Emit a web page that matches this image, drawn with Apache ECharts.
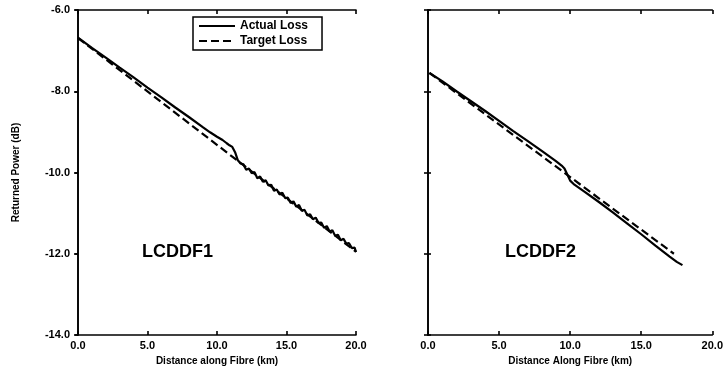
<!DOCTYPE html>
<html>
<head>
<meta charset="utf-8">
<script src="https://cdn.jsdelivr.net/npm/echarts@6/dist/echarts.min.js"></script>
<style>
  html, body { margin: 0; padding: 0; background: #fff; }
  #chart { width: 726px; height: 376px; }
</style>
</head>
<body>
<div id="chart"></div>
<script>
// LCDDF1 – measured trace (km, dB)
const actual1 = [
  [0, -6.68], [1, -6.93], [2, -7.17], [3, -7.42], [4, -7.66], [5, -7.91],
  [6, -8.15], [7, -8.40], [8, -8.64], [9, -8.89], [9.5, -9.01], [10, -9.12],
  [10.4, -9.20], [10.7, -9.28], [10.9, -9.33], [11.1, -9.37], [11.3, -9.50],
  [11.5, -9.70], [11.7, -9.78], [11.9, -9.80], [12.1, -9.93], [12.3, -9.90],
  [12.5, -10.02], [12.7, -9.99], [12.9, -10.14], [13.1, -10.10], [13.3, -10.23],
  [13.5, -10.19], [13.7, -10.32], [13.9, -10.30], [14.1, -10.45], [14.3, -10.42],
  [14.5, -10.54], [14.7, -10.50], [14.9, -10.63], [15.1, -10.62], [15.3, -10.75],
  [15.5, -10.71], [15.7, -10.84], [15.9, -10.80], [16.1, -10.94], [16.3, -10.92],
  [16.5, -11.06], [16.7, -11.03], [16.9, -11.15], [17.1, -11.11], [17.3, -11.24],
  [17.5, -11.23], [17.7, -11.36], [17.9, -11.32], [18.1, -11.45], [18.3, -11.42],
  [18.5, -11.56], [18.7, -11.53], [18.9, -11.67], [19.1, -11.63], [19.3, -11.75],
  [19.5, -11.74], [19.7, -11.86], [19.9, -11.85], [20.0, -11.96]
];
const target1 = [[0, -6.69], [20, -11.95]];

// LCDDF2
const actual2 = [
  [0.1, -7.55], [1, -7.75], [2, -8.0], [3, -8.24], [4, -8.48], [5, -8.73],
  [6, -8.98], [7, -9.22], [8, -9.47], [9, -9.72], [9.4, -9.83], [9.6, -9.9],
  [9.8, -10.05], [10.0, -10.2], [10.3, -10.3], [11, -10.47], [12, -10.72],
  [13, -10.98], [14, -11.25], [15, -11.52], [16, -11.8], [17, -12.07],
  [17.5, -12.2], [17.9, -12.28]
];
const target2 = [[0.1, -7.55], [17.3, -12.0]];

const FONT = "'Liberation Sans', Arial, sans-serif";
const lineStyleAxis = { color: '#000', width: 1.6 };

function xAxisPair(gridIndex, name) {
  return [
    {
      gridIndex, type: 'value', min: 0, max: 20, interval: 5,
      position: 'bottom',
      name, nameLocation: 'middle', nameGap: 20,
      nameTextStyle: { fontFamily: FONT, fontWeight: 'bold', fontSize: 10, color: '#000' },
      axisLine: { lineStyle: lineStyleAxis },
      axisTick: { inside: true, length: 4, lineStyle: lineStyleAxis },
      axisLabel: {
        fontFamily: FONT, fontWeight: 'bold', fontSize: 11, color: '#000', margin: 5,
        formatter: v => v.toFixed(1)
      },
      splitLine: { show: false }
    },
    {
      gridIndex, type: 'value', min: 0, max: 20, interval: 5,
      position: 'top',
      axisLine: { lineStyle: lineStyleAxis },
      axisTick: { inside: true, length: 4, lineStyle: lineStyleAxis },
      axisLabel: { show: false },
      splitLine: { show: false }
    }
  ];
}

function yAxisPair(gridIndex, showLabels) {
  return [
    {
      gridIndex, type: 'value', min: -14, max: -6, interval: 2,
      position: 'left',
      name: showLabels ? 'Returned Power (dB)' : '',
      nameLocation: 'middle', nameGap: 57,
      nameTextStyle: { fontFamily: FONT, fontWeight: 'bold', fontSize: 10, color: '#000' },
      axisLine: { lineStyle: lineStyleAxis },
      axisTick: { inside: !showLabels, length: 3, lineStyle: lineStyleAxis },
      axisLabel: {
        show: showLabels,
        fontFamily: FONT, fontWeight: 'bold', fontSize: 11, color: '#000', margin: 8,
        formatter: v => v.toFixed(1)
      },
      splitLine: { show: false }
    },
    {
      gridIndex, type: 'value', min: -14, max: -6, interval: 2,
      position: 'right',
      axisLine: { lineStyle: lineStyleAxis },
      axisTick: { inside: true, length: 4, lineStyle: lineStyleAxis },
      axisLabel: { show: false },
      splitLine: { show: false }
    }
  ];
}

function lineSeries(name, data, xi, yi, dashed) {
  return {
    name, type: 'line', data,
    xAxisIndex: xi, yAxisIndex: yi,
    symbol: 'none', smooth: false, animation: false,
    lineStyle: { color: '#000', width: 2.2, type: dashed ? [8, 4] : 'solid' },
    itemStyle: { color: '#000' }
  };
}

const chart = echarts.init(document.getElementById('chart'));
chart.setOption({
  backgroundColor: '#fff',
  animation: false,
  grid: [
    { left: 78, top: 10, width: 278, height: 325 },
    { left: 428, top: 10, width: 287, height: 325 }
  ],
  xAxis: [
    ...xAxisPair(0, 'Distance along Fibre (km)'),
    ...xAxisPair(1, 'Distance Along Fibre (km)')
  ],
  yAxis: [
    ...yAxisPair(0, true),
    ...yAxisPair(1, false)
  ],
  legend: {
    data: ['Actual Loss', 'Target Loss'],
    orient: 'vertical',
    left: 193, top: 17,
    itemWidth: 36, itemHeight: 12, itemGap: 3,
    padding: [3, 14, 3, 5],
    borderColor: '#000', borderWidth: 1.5,
    selectedMode: false,
    itemStyle: { opacity: 0 },
    textStyle: { fontFamily: FONT, fontWeight: 'bold', fontSize: 12, color: '#000' }
  },
  graphic: [
    {
      type: 'text', left: 142, top: 243,
      style: { text: 'LCDDF1', font: "bold 18px 'Liberation Sans', Arial, sans-serif", fill: '#000' }
    },
    {
      type: 'text', left: 505, top: 243,
      style: { text: 'LCDDF2', font: "bold 18px 'Liberation Sans', Arial, sans-serif", fill: '#000' }
    }
  ],
  series: [
    lineSeries('Actual Loss', actual1, 0, 0, false),
    lineSeries('Target Loss', target1, 0, 0, true),
    lineSeries('Actual Loss', actual2, 2, 2, false),
    lineSeries('Target Loss', target2, 2, 2, true)
  ]
});
</script>
</body>
</html>
